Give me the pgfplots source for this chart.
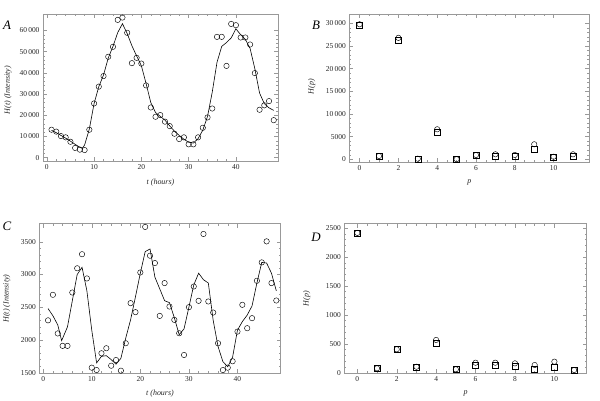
\documentclass[border=0pt]{standalone}
\usepackage{fontspec}
\setmainfont{Liberation Serif}
\usepackage{pgfplots}
\pgfplotsset{compat=1.18}

\pgfplotsset{
 mma/.style={
  scale only axis,
  anchor=south west,
  axis line style={draw=black!40, line width=0.5pt},
  tick style={draw=black!40, line width=0.4pt},
  tick align=inside,
  tick pos=both,
  major tick length=4bp,
  minor tick length=2bp,
  ticklabel style={font=\fontsize{7.5}{8}\selectfont, text=black!85},
  label style={font=\fontsize{8}{9}\selectfont\itshape, text=black!85},
  /pgf/number format/assume math mode=true,
  /pgf/number format/1000 sep={\,},
  /pgf/number format/min exponent for 1000 sep=4,
  scaled ticks=false,
  clip=false,
 },
 circ/.style={only marks, mark=o, mark size=2.7bp, mark options={draw=black, line width=0.45pt}},
 sq/.style={only marks, mark=square, mark size=3bp, mark options={draw=black, line width=0.45pt}},
 fit/.style={black, line width=0.6pt, mark=none},
}

\begin{document}
\begin{tikzpicture}
\useasboundingbox (0bp,0bp) rectangle (600bp,401bp);

% ---------------- A ----------------
\begin{axis}[mma, at={(43bp,240bp)}, width=235bp, height=147bp,
  xmin=-0.8, xmax=48.9, ymin=-1560, ymax=67780,
  xtick={0,10,20,30,40}, minor x tick num=4,
  ytick={0,10000,20000,30000,40000,50000,60000}, minor y tick num=4,
  xlabel={t (hours)}, ylabel={H(t) (Intensity)},
  xlabel style={at={(axis description cs:0.5,-0.15)}, anchor=center},
  ylabel style={at={(axis description cs:-0.149,0.483)}, anchor=center},
]
\addplot[fit] coordinates {
(1,12900)(2,11800)(3,10500)(4,9200)(5,7800)(6,6300)(7,4900)(7.5,4400)(8,6000)
(9,13500)(10,25500)(11,33500)(12,39000)(13,47000)(14,52500)(15,59000)(16,63200)
(17,58600)(18,52800)(19,48000)(20,43400)(21,35000)(22,26000)(23,21300)(24,19500)
(25,17700)(26,15000)(27,12500)(28,10500)(29,8700)(30,7300)(31,6900)(32,9000)
(33,13000)(34,19500)(35,31000)(36,45000)(37,52500)(38,54300)(39,56500)(40,60800)
(41,58000)(42,55800)(43,51500)(44,42000)(45,30500)(46,25500)(47,23500)(48,22300)};
\addplot[circ] coordinates {
(1,13200)(2,12300)(3,10200)(4,9600)(5,7500)(6,4600)(7,3800)(8,3600)(9,13200)
(10,25600)(11,33500)(12,38500)(13,47600)(14,52300)(15,65000)(16,66100)(17,58900)
(18,44600)(19,47100)(20,44400)(21,34100)(22,23700)(23,19300)(24,20100)(25,17000)
(26,14900)(27,11300)(28,8800)(29,9600)(30,6300)(31,6300)(32,9600)(33,14100)
(34,19000)(35,23200)(36,57000)(37,57000)(38,43300)(39,63100)(40,62500)(41,56700)
(42,56700)(43,53400)(44,39900)(45,22600)(46,24700)(47,26700)(48,17700)};
\end{axis}

% ---------------- B ----------------
\begin{axis}[mma, at={(349.3bp,239bp)}, width=240bp, height=148bp,
  xmin=-0.53, xmax=11.84, ymin=-600, ymax=32070,
  xtick={0,2,4,6,8,10}, minor x tick num=3,
  ytick={0,5000,10000,15000,20000,25000,30000}, minor y tick num=4,
  xlabel={p}, ylabel={H(p)},
  xlabel style={at={(axis description cs:0.5,-0.14)}, anchor=center},
  ylabel style={at={(axis description cs:-0.157,0.51)}, anchor=center},
]
\addplot[sq] coordinates {
(0,29500)(1,650)(2,26200)(3,100)(4,5960)(5,30)(6,800)(7,570)(8,570)(9,2200)(10,400)(11,570)};
\addplot[circ] coordinates {
(0,29800)(1,730)(2,26800)(3,130)(4,6620)(5,20)(6,950)(7,1100)(8,950)(9,3310)(10,570)(11,1100)};
\end{axis}

% ---------------- C ----------------
\begin{axis}[mma, at={(39.3bp,27.7bp)}, width=241.4bp, height=149.6bp,
  xmin=-0.8, xmax=48.9, ymin=1491, ymax=3776,
  xtick={0,10,20,30,40}, minor x tick num=4,
  ytick={1500,2000,2500,3000,3500}, minor y tick num=4,
  xlabel={t (hours)}, ylabel={H(t) (Intensity)},
  xlabel style={at={(axis description cs:0.5,-0.135)}, anchor=center},
  ylabel style={at={(axis description cs:-0.135,0.5)}, anchor=center},
]
\addplot[fit] coordinates {
(1,2480)(2,2370)(3,2230)(3.8,1990)(5,2200)(6,2600)(7,3000)(8,3110)(9,2750)(10,2150)
(11,1650)(12,1750)(13,1760)(14,1700)(15,1630)(16,1720)(17,2030)(18,2310)(19,2660)
(20,3020)(21,3350)(22,3390)(23,2960)(24,2780)(25,2600)(26,2570)(27,2340)(28,2080)
(29,2170)(30,2500)(31,2840)(32,3020)(33,2920)(34,2870)(35,2300)(36,1900)(37,1670)
(38,1590)(39,1740)(40,2150)(41,2280)(42,2380)(43,2520)(44,2870)(45,3185)(46,3175)
(47,3020)(48,2750)};
\addplot[circ] coordinates {
(1,2300)(2,2690)(3,2100)(4,1910)(5,1910)(6,2725)(7,3095)(8,3310)(9,2940)(10,1577)
(11,1541)(12,1797)(13,1874)(14,1607)(15,1694)(16,1531)(17,1950)(18,2563)(19,2425)
(20,3031)(21,3727)(22,3287)(23,3175)(24,2368)(25,2869)(26,2511)(27,2307)(28,2103)
(29,1771)(30,2501)(31,2817)(32,2598)(33,3619)(34,2588)(35,2419)(36,1950)(37,1541)
(38,1577)(39,1675)(40,2128)(41,2537)(42,2180)(43,2333)(44,2904)(45,3185)(46,3506)
(47,2869)(48,2603)};
\end{axis}

% ---------------- D ----------------
\begin{axis}[mma, at={(344.3bp,27.7bp)}, width=242.4bp, height=149.6bp,
  xmin=-0.66, xmax=11.64, ymin=-10, ymax=2574,
  xtick={0,2,4,6,8,10}, minor x tick num=3,
  ytick={0,500,1000,1500,2000,2500}, minor y tick num=4,
  xlabel={p}, ylabel={H(p)},
  xlabel style={at={(axis description cs:0.5,-0.135)}, anchor=center},
  ylabel style={at={(axis description cs:-0.155,0.5)}, anchor=center},
]
\addplot[sq] coordinates {
(0,2410)(1,76)(2,405)(3,90)(4,509)(5,59)(6,133)(7,133)(8,104)(9,64)(10,87)(11,47)};
\addplot[circ] coordinates {
(0,2415)(1,76)(2,405)(3,104)(4,566)(5,59)(6,173)(7,173)(8,162)(9,133)(10,191)(11,47)};
\end{axis}

% panel letters
\node[font=\fontsize{13}{14}\selectfont\itshape] at (7bp,376bp) {A};
\node[font=\fontsize{13}{14}\selectfont\itshape] at (316bp,376bp) {B};
\node[font=\fontsize{13}{14}\selectfont\itshape] at (7bp,175bp) {C};
\node[font=\fontsize{13}{14}\selectfont\itshape] at (316bp,164bp) {D};
\end{tikzpicture}
\end{document}
